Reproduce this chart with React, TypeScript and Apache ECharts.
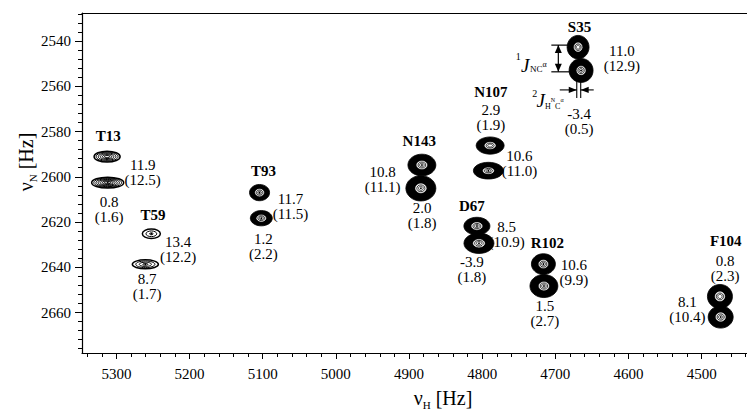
import React, { useEffect, useRef } from "react";
import * as echarts from "echarts";

const SERIF = "'Liberation Serif', 'Times New Roman', serif";

// axis extents (Hz)
const xExtent = [4438, 5347];
const yExtent = [2527.6, 2677.9];

// tick labels
const xLabelValues = [5300, 5200, 5100, 5000, 4900, 4800, 4700, 4600, 4500];
const yLabelValues = [2540, 2560, 2580, 2600, 2620, 2640, 2660];
const xMinorStep = 20;
const yMinorStep = 4;

// peaks: [residue, vH (Hz), vN (Hz), half-width H (Hz), half-width N (Hz), contour levels]
const peaks: [string, number, number, number, number, number][] = [
  ["T13", 5312.7, 2591.1, 17.8, 2.4, 6],
  ["T13", 5311.9, 2602.6, 21.9, 2.4, 7],
  ["T59", 5252.2, 2625.2, 12.3, 2.1, 3],
  ["T59", 5260.4, 2638.7, 17.8, 2.0, 4],
  ["T93", 5104.3, 2607.0, 13.7, 3.6, 8],
  ["T93", 5101.9, 2618.3, 15.0, 3.4, 9],
  ["N143", 4882.4, 2594.8, 19.1, 4.8, 13],
  ["N143", 4883.8, 2605.1, 20.5, 5.6, 14],
  ["N107", 4789.1, 2586.2, 19.1, 3.8, 12],
  ["N107", 4791.5, 2597.3, 20.5, 3.7, 14],
  ["S35", 4668.9, 2542.7, 15.0, 5.2, 13],
  ["S35", 4664.8, 2553.0, 16.4, 5.3, 14],
  ["D67", 4807.2, 2621.8, 17.8, 3.9, 10],
  ["D67", 4804.4, 2629.4, 20.5, 4.5, 12],
  ["R102", 4716.3, 2638.6, 16.4, 4.6, 12],
  ["R102", 4715.6, 2648.3, 19.1, 5.1, 14],
  ["F104", 4475.0, 2652.9, 17.1, 5.3, 12],
  ["F104", 4474.0, 2662.0, 17.1, 4.9, 12],
];

// annotations: [text, vH, vN, bold]
const labels: [string, number, number, number][] = [
  ["T13", 5311, 2582.0, 1],
  ["11.9\n(12.5)", 5264, 2597.9, 0],
  ["0.8\n(1.6)", 5310, 2614.3, 0],
  ["T59", 5250, 2616.9, 1],
  ["13.4\n(12.2)", 5215.5, 2632.1, 0],
  ["8.7\n(1.7)", 5258, 2648.5, 0],
  ["T93", 5099, 2597.3, 1],
  ["11.7\n(11.5)", 5062, 2613.2, 0],
  ["1.2\n(2.2)", 5099, 2630.7, 0],
  ["N143", 4886, 2584.2, 1],
  ["10.8\n(11.1)", 4936, 2601.1, 0],
  ["2.0\n(1.8)", 4882, 2616.9, 0],
  ["N107", 4788, 2562.6, 1],
  ["2.9\n(1.9)", 4788, 2573.6, 0],
  ["10.6\n(11.0)", 4749, 2594.3, 0],
  ["S35", 4667, 2533.7, 1],
  ["11.0\n(12.9)", 4609, 2547.9, 0],
  ["-3.4\n(0.5)", 4667.5, 2575.4, 0],
  ["D67", 4814, 2612.9, 1],
  ["8.5\n(10.9)", 4766.5, 2625.6, 0],
  ["-3.9\n(1.8)", 4814, 2641.2, 0],
  ["R102", 4710.8, 2629.1, 1],
  ["10.6\n(9.9)", 4674.6, 2642.5, 0],
  ["1.5\n(2.7)", 4714.2, 2660.4, 0],
  ["F104", 4467, 2628.6, 1],
  ["0.8\n(2.3)", 4468, 2640.7, 0],
  ["8.1\n(10.4)", 4519.5, 2658.6, 0],
];

// coupling arrows (S35): 1J(N,Ca) vertical, 2J(HN,Ca) horizontal
const jNC = [4695.9, 2541.8, 2553.6]; // vH, vN top, vN bottom
const jHC = [4670.7, 4665.3, 2555.0, 2565.2, 2561.6]; // vH left, vH right, vN top, vN bottom, vN arrow

function range(a: number, b: number, step: number) {
  const out: number[] = [];
  for (let v = a; v <= b + 1e-6; v += step) out.push(v);
  return out;
}

const xMinor = range(4440, 5340, xMinorStep);
const yMinor = range(2528, 2676, yMinorStep);

const STRONG = 8;

const ell = (cx: number, cy: number, rx: number, ry: number, style: any) => ({
  type: "ellipse",
  shape: { cx, cy, rx, ry },
  style,
});

// outer part of each peak: solid black band for strong peaks, thin rings for weak ones
const renderBand = (_params: any, api: any) => {
  const c = api.coord([api.value(0), api.value(1)]);
  const sz = api.size([api.value(2), api.value(3)]);
  const n = api.value(4);
  const children: any[] = [];
  if (n >= STRONG) {
    children.push(ell(c[0], c[1], sz[0], sz[1], { fill: "#000", stroke: "#000", lineWidth: 0.8 }));
  } else {
    for (let k = 0; k < n; k++) {
      const f = 1 - (k * 0.8) / Math.max(1, n - 1);
      children.push(
        ell(c[0], c[1], sz[0] * f, sz[1] * f, { fill: "none", stroke: "#000", lineWidth: k === 0 ? 1.5 : 1 })
      );
    }
    children.push({ type: "circle", shape: { cx: c[0], cy: c[1], r: 0.9 }, style: { fill: "#000" } });
  }
  return { type: "group", children };
};

// inner part of strong peaks: white core with a thin ring and a dot
const renderCore = (_params: any, api: any) => {
  const c = api.coord([api.value(0), api.value(1)]);
  const sz = api.size([api.value(2), api.value(3)]);
  const n = api.value(4);
  if (n < STRONG) return { type: "group", children: [] };
  const h = 0.36 + 0.012 * (14 - n);
  return {
    type: "group",
    children: [
      ell(c[0], c[1], sz[0] * h, sz[1] * h, { fill: "#fff", stroke: "#fff", lineWidth: 0.5 }),
      ell(c[0], c[1], sz[0] * h * 0.75, sz[1] * h * 0.75, { fill: "none", stroke: "#000", lineWidth: 0.8 }),
      ell(c[0], c[1], sz[0] * h * 0.45, sz[1] * h * 0.45, { fill: "none", stroke: "#000", lineWidth: 0.7 }),
      { type: "circle", shape: { cx: c[0], cy: c[1], r: 0.9 }, style: { fill: "#000" } },
    ],
  };
};

const txt = (x: number, y: number, text: string, size: number, opts: any = {}) => ({
  type: "text",
  x,
  y,
  style: {
    text,
    fill: "#000",
    fontSize: size,
    fontFamily: SERIF,
    fontStyle: opts.italic ? "italic" : "normal",
    fontWeight: opts.bold ? "bold" : "normal",
    lineHeight: opts.lineHeight,
    align: "center",
    verticalAlign: "middle",
    textAlign: "center",
    textVerticalAlign: "middle",
    rich: opts.rich,
  },
});

const renderLabel = (params: any, api: any) => {
  const c = api.coord([api.value(0), api.value(1)]);
  const l = labels[params.dataIndex];
  return txt(c[0], c[1], l[0], 15, { bold: l[3] === 1, lineHeight: 15 });
};

const subRich = (s: number, t: number) => ({
  s: { fontSize: s, fontFamily: SERIF, fill: "#000", lineHeight: 13, verticalAlign: "bottom" },
  t: { fontSize: t, fontFamily: SERIF, fill: "#000", lineHeight: 13, verticalAlign: "top" },
});

const renderNC = (_params: any, api: any) => {
  const top = api.coord([api.value(0), api.value(1)]);
  const bot = api.coord([api.value(0), api.value(2)]);
  const x = top[0];
  const ls = { stroke: "#000", lineWidth: 1.2 };
  return {
    type: "group",
    children: [
      { type: "line", shape: { x1: x, y1: top[1], x2: x, y2: bot[1] }, style: ls },
      { type: "line", shape: { x1: x - 7, y1: top[1], x2: x + 13, y2: top[1] }, style: ls },
      { type: "line", shape: { x1: x - 7, y1: bot[1], x2: x + 13, y2: bot[1] }, style: ls },
      { type: "polygon", shape: { points: [[x, top[1]], [x - 3.5, top[1] + 8], [x + 3.5, top[1] + 8]] }, style: { fill: "#000" } },
      { type: "polygon", shape: { points: [[x, bot[1]], [x - 3.5, bot[1] - 8], [x + 3.5, bot[1] - 8]] }, style: { fill: "#000" } },
      txt(x - 40, top[1] + 11, "1", 10),
      txt(x - 33, top[1] + 20, "J", 19, { italic: true }),
      txt(x - 20, top[1] + 22, "{s|NC}{t|α}", 9, { rich: subRich(9, 8) }),
    ],
  };
};

const renderHC = (_params: any, api: any) => {
  const a = api.coord([api.value(0), api.value(2)]);
  const b = api.coord([api.value(1), api.value(3)]);
  const yA = api.coord([api.value(0), api.value(4)])[1];
  const xl = a[0];
  const xr = b[0];
  const ls = { stroke: "#000", lineWidth: 1.1 };
  return {
    type: "group",
    children: [
      { type: "line", shape: { x1: xl, y1: a[1], x2: xl, y2: b[1] }, style: ls },
      { type: "line", shape: { x1: xr, y1: a[1], x2: xr, y2: b[1] }, style: ls },
      { type: "line", shape: { x1: xl - 17, y1: yA, x2: xl, y2: yA }, style: ls },
      { type: "line", shape: { x1: xr, y1: yA, x2: xr + 13, y2: yA }, style: ls },
      { type: "polygon", shape: { points: [[xl, yA], [xl - 8, yA - 3.2], [xl - 8, yA + 3.2]] }, style: { fill: "#000" } },
      { type: "polygon", shape: { points: [[xr, yA], [xr + 8, yA - 3.2], [xr + 8, yA + 3.2]] }, style: { fill: "#000" } },
      txt(xl - 42, yA + 3.5, "2", 10),
      txt(xl - 36, yA + 11, "J", 19, { italic: true }),
      txt(xl - 22.5, yA + 14, "{s|H}{t|N}{s|C}{t|α}", 8, { rich: subRich(8, 6) }),
    ],
  };
};

const axisBase = (extent: number[]) => ({
  type: "value",
  min: extent[0],
  max: extent[1],
  inverse: true,
  splitLine: { show: false },
  scale: true,
});

const plain = (v: number) => String(v);

export default function App() {
  const ref = useRef<HTMLDivElement>(null);
  useEffect(() => {
    if (!ref.current) return;
    const chart = echarts.init(ref.current, undefined, { renderer: "svg" });
    const lineStyle = { color: "#000", width: 1.2 };
    const titleRich = {
      v: { fontSize: 20, fontFamily: SERIF, fill: "#000", lineHeight: 24, verticalAlign: "middle" },
      s: { fontSize: 11, fontFamily: SERIF, fill: "#000", lineHeight: 24, verticalAlign: "bottom" },
    };
    const peakData = peaks.map((p) => [p[1], p[2], p[3], p[4], p[5]]);
    const option: any = {
      animation: false,
      backgroundColor: "#fff",
      grid: { left: 82, right: 0, top: 13, bottom: 58 },
      xAxis: [
        {
          ...axisBase(xExtent),
          position: "bottom",
          axisLine: { show: true, onZero: false, lineStyle },
          axisTick: { show: true, length: 6, customValues: xLabelValues, lineStyle: { color: "#000" } },
          axisLabel: { customValues: xLabelValues, formatter: plain, fontFamily: SERIF, fontSize: 15, color: "#000", margin: 13 },
        },
        {
          ...axisBase(xExtent),
          position: "bottom",
          axisLine: { show: false },
          axisTick: { show: true, length: 4, customValues: xMinor, lineStyle: { color: "#000" } },
          axisLabel: { show: false },
        },
        {
          ...axisBase(xExtent),
          position: "top",
          axisLine: { show: true, onZero: false, lineStyle },
          axisTick: { show: false },
          axisLabel: { show: false },
        },
      ],
      yAxis: [
        {
          ...axisBase(yExtent),
          position: "left",
          axisLine: { show: true, onZero: false, lineStyle },
          axisTick: { show: true, length: 7, customValues: yLabelValues, lineStyle: { color: "#000" } },
          axisLabel: { customValues: yLabelValues, formatter: plain, fontFamily: SERIF, fontSize: 15, color: "#000", margin: 11 },
        },
        {
          ...axisBase(yExtent),
          position: "left",
          axisLine: { show: false },
          axisTick: { show: true, length: 4, customValues: yMinor, lineStyle: { color: "#000" } },
          axisLabel: { show: false },
        },
      ],
      graphic: [
        {
          type: "text",
          x: 443,
          y: 398,
          style: { text: "{v|ν}{s|H}{v| [Hz]}", align: "center", verticalAlign: "middle", rich: titleRich },
        },
        {
          type: "text",
          x: 26,
          y: 162,
          rotation: Math.PI / 2,
          style: { text: "{v|ν}{s|N}{v| [Hz]}", align: "center", verticalAlign: "middle", rich: titleRich },
        },
      ],
      series: [
        {
          type: "custom",
          name: "contourBands",
          xAxisIndex: 0,
          yAxisIndex: 0,
          silent: true,
          clip: false,
          encode: { x: 0, y: 1 },
          data: peakData,
          renderItem: renderBand,
        },
        {
          type: "custom",
          name: "contourCores",
          xAxisIndex: 0,
          yAxisIndex: 0,
          silent: true,
          clip: false,
          encode: { x: 0, y: 1 },
          data: peakData,
          renderItem: renderCore,
        },
        {
          type: "custom",
          name: "labels",
          xAxisIndex: 0,
          yAxisIndex: 0,
          silent: true,
          clip: false,
          encode: { x: 0, y: 1 },
          data: labels.map((l) => [l[1], l[2]]),
          renderItem: renderLabel,
        },
        {
          type: "custom",
          name: "jNC",
          xAxisIndex: 0,
          yAxisIndex: 0,
          silent: true,
          clip: false,
          encode: { x: 0, y: 1 },
          data: [jNC],
          renderItem: renderNC,
        },
        {
          type: "custom",
          name: "jHC",
          xAxisIndex: 0,
          yAxisIndex: 0,
          silent: true,
          clip: false,
          encode: { x: 0, y: 2 },
          data: [jHC],
          renderItem: renderHC,
        },
      ],
    };
    chart.setOption(option);
    return () => chart.dispose();
  }, []);
  return (
    <div
      ref={ref}
      style={{ position: "absolute", left: 0, top: 0, width: 747, height: 411, background: "#fff" }}
    />
  );
}
